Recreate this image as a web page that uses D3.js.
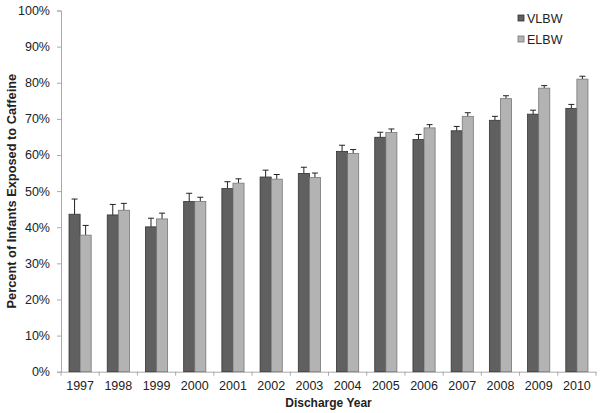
<!DOCTYPE html>
<html>
<head>
<meta charset="utf-8">
<script src="https://cdn.jsdelivr.net/npm/d3@7"></script>
<style>
  body { margin: 0; background: #fff; }
  text { font-family: 'Liberation Sans', Arial, sans-serif; }
</style>
</head>
<body>
<div id="chart"></div>
<script>
var years = ['1997', '1998', '1999', '2000', '2001', '2002', '2003', '2004', '2005', '2006', '2007', '2008', '2009', '2010']
var seriesNames = ['VLBW', 'ELBW']
var vlbw = [43.6, 43.4, 40.1, 47.1, 50.7, 53.9, 54.9, 61.0, 64.9, 64.3, 66.7, 69.6, 71.3, 72.9]
var vlbwErr = [47.8, 46.3, 42.5, 49.4, 52.6, 55.8, 56.6, 62.7, 66.3, 65.7, 67.9, 70.7, 72.4, 74.0]
var elbw = [37.8, 44.7, 42.3, 47.1, 52.2, 53.3, 53.8, 60.4, 66.2, 67.5, 70.7, 75.6, 78.5, 81.0]
var elbwErr = [40.5, 46.6, 43.9, 48.3, 53.4, 54.6, 55.0, 61.5, 67.2, 68.4, 71.7, 76.4, 79.2, 81.8]
var yTicks = [0, 10, 20, 30, 40, 50, 60, 70, 80, 90, 100]

var width = 600
var height = 413
var margin = { top: 10.5, right: 4, bottom: 41.3, left: 61 }

var svg = d3.select('#chart').append('svg')
  .attr('width', width)
  .attr('height', height)

var x = d3.scaleBand()
  .domain(years)
  .range([margin.left, width - margin.right])

var y = d3.scaleLinear()
  .domain([0, 100])
  .range([height - margin.bottom, margin.top])

// inner scale for the two bars in a year
var x1 = d3.scaleBand()
  .domain(seriesNames)
  .range([0, x.bandwidth() * 0.58])

var colors = { VLBW: '#606060', ELBW: '#b3b3b3' }
var strokes = { VLBW: '#333', ELBW: '#777' }

// y axis
var yAxis = svg.append('g')
  .attr('transform', 'translate(' + margin.left + ',0)')
  .call(d3.axisLeft(y).tickValues(yTicks).tickSize(4).tickPadding(7).tickFormat(function (d) { return d + '%' }))
yAxis.selectAll('text').style('font-size', '12.5px').attr('fill', '#222')
yAxis.selectAll('line').attr('stroke', '#aaa')
yAxis.select('.domain').attr('stroke', '#aaa')

// x axis
var xAxis = svg.append('g')
  .attr('transform', 'translate(0,' + y(0) + ')')
  .call(d3.axisBottom(x).tickSize(0).tickPadding(9))
xAxis.selectAll('text').style('font-size', '12.5px').attr('fill', '#222')
xAxis.select('.domain').attr('stroke', '#aaa')
// tick marks sit between categories
xAxis.selectAll('.sep')
  .data(d3.range(years.length + 1))
  .enter()
  .append('line')
  .attr('x1', function (i) { return margin.left + i * x.step() })
  .attr('x2', function (i) { return margin.left + i * x.step() })
  .attr('y1', 0)
  .attr('y2', 4)
  .attr('stroke', '#aaa')

var series = [
  { name: 'VLBW', values: vlbw, err: vlbwErr },
  { name: 'ELBW', values: elbw, err: elbwErr }
]

series.forEach(function (s) {
  var g = svg.append('g')
  var offset = (x.bandwidth() - x1.range()[1]) / 2

  // error bars first, behind the bars
  g.selectAll('.err')
    .data(years)
    .enter()
    .append('line')
    .attr('x1', function (d) { return x(d) + offset + x1(s.name) + x1.bandwidth() / 2 })
    .attr('x2', function (d) { return x(d) + offset + x1(s.name) + x1.bandwidth() / 2 })
    .attr('y1', function (d, i) { return y(s.values[i]) })
    .attr('y2', function (d, i) { return y(s.err[i]) })
    .attr('stroke', '#222')
    .attr('stroke-width', 1)

  g.selectAll('.cap')
    .data(years)
    .enter()
    .append('line')
    .attr('x1', function (d) { return x(d) + offset + x1(s.name) + x1.bandwidth() / 2 - 3 })
    .attr('x2', function (d) { return x(d) + offset + x1(s.name) + x1.bandwidth() / 2 + 3 })
    .attr('y1', function (d, i) { return y(s.err[i]) })
    .attr('y2', function (d, i) { return y(s.err[i]) })
    .attr('stroke', '#222')
    .attr('stroke-width', 1)

  g.selectAll('rect')
    .data(years)
    .enter()
    .append('rect')
    .attr('x', function (d) { return x(d) + offset + x1(s.name) })
    .attr('y', function (d, i) { return y(s.values[i]) })
    .attr('width', x1.bandwidth())
    .attr('height', function (d, i) { return y(0) - y(s.values[i]) })
    .attr('fill', colors[s.name])
    .attr('stroke', strokes[s.name])
    .attr('stroke-width', 0.8)
})

// legend
var legend = svg.append('g')
seriesNames.forEach(function (name, i) {
  legend.append('rect')
    .attr('x', 518)
    .attr('y', 15 + i * 21)
    .attr('width', 6)
    .attr('height', 6)
    .attr('fill', colors[name])
    .attr('stroke', strokes[name])
    .attr('stroke-width', 0.8)
  legend.append('text')
    .attr('x', 527)
    .attr('y', 22.5 + i * 21)
    .style('font-size', '12.5px')
    .attr('fill', '#222')
    .text(name)
})

// axis titles
svg.append('text')
  .attr('x', (margin.left + width - margin.right) / 2)
  .attr('y', 407)
  .attr('text-anchor', 'middle')
  .style('font-size', '12px')
  .style('font-weight', 'bold')
  .attr('fill', '#222')
  .text('Discharge Year')

svg.append('text')
  .attr('transform', 'translate(16,' + (y(50)) + ') rotate(-90)')
  .attr('text-anchor', 'middle')
  .style('font-size', '12.8px')
  .style('font-weight', 'bold')
  .attr('fill', '#222')
  .text('Percent of Infants Exposed to Caffeine')
</script>
</body>
</html>
